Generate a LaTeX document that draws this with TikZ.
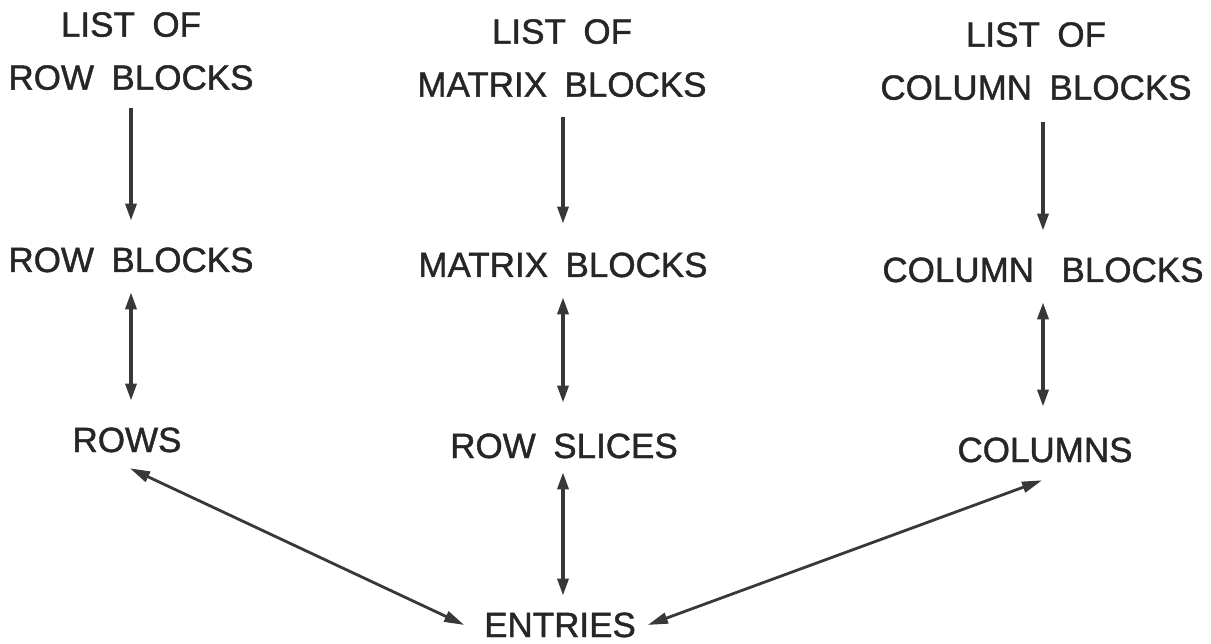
\documentclass[tikz,border=0pt]{standalone}
\usepackage{fontspec}
\setmainfont[FakeBold=1.2,WordSpace=1.8]{Liberation Sans}
\usetikzlibrary{arrows.meta}
\definecolor{ink}{HTML}{262626}
\definecolor{lineink}{HTML}{383838}
\begin{document}
\begin{tikzpicture}[x=1pt,y=-1pt,
  lbl/.style={inner sep=0pt, outer sep=0pt, font=\fontsize{35}{53}\selectfont, text=ink, align=center},
  arr/.style={line width=3.4pt, draw=lineink, -{Triangle[length=17pt,width=11pt]}},
  darr/.style={line width=3.4pt, draw=lineink, {Triangle[length=17pt,width=11pt]}-{Triangle[length=17pt,width=11pt]}},
  diag/.style={line width=2.8pt, draw=lineink, {Triangle[length=20pt,width=11pt]}-{Triangle[length=20pt,width=11pt]}}]
\useasboundingbox[fill=white] (0,0) rectangle (1211,644);
% titles
\node[lbl, anchor=south] (lr) at (131,90) {LIST OF\\ROW BLOCKS};
\node[lbl, anchor=south] (lm) at (562,97) {LIST OF\\MATRIX BLOCKS};
\node[lbl, anchor=south] (lc) at (1036,100) {LIST OF\\COLUMN BLOCKS};
% second row
\node[lbl, anchor=base] (rb) at (131,272) {ROW BLOCKS};
\node[lbl, anchor=base] (mb) at (563,277) {MATRIX BLOCKS};
\node[lbl, anchor=base] (cb) at (1043,282) {COLUMN\hspace{10pt} BLOCKS};
% third row
\node[lbl, anchor=base] (rows) at (127,452) {ROWS};
\node[lbl, anchor=base] (rs) at (564,458) {ROW SLICES};
\node[lbl, anchor=base] (cols) at (1045,462) {COLUMNS};
% bottom
\node[lbl, anchor=base] (ent) at (560,637) {ENTRIES};
% connectors
\draw[arr, shorten <=18pt, shorten >=27pt] (lr.south -| rb) -- (rb);
\draw[darr, shorten <=20pt, shorten >=27pt] (rb) -- (rb |- rows.north);
\draw[arr, shorten <=20pt, shorten >=29pt] (lm.south -| mb) -- (mb);
\draw[darr, shorten <=20pt, shorten >=31pt] (mb) -- (mb |- rs.north);
\draw[darr, shorten <=14pt, shorten >=17pt] (rs.south -| mb) -- (mb |- ent.north);
\draw[arr, shorten <=22pt, shorten >=27pt] (lc.south -| cb) -- (cb);
\draw[darr, shorten <=20pt, shorten >=31pt] (cb) -- (cb |- cols.north);
\draw[diag] ([xshift=3pt,yshift=-16pt]rows.south) -- ([xshift=-20pt]ent.west);
\draw[diag] ([xshift=-3pt,yshift=-18pt]cols.south) -- ([xshift=12pt]ent.east);
\end{tikzpicture}
\end{document}
